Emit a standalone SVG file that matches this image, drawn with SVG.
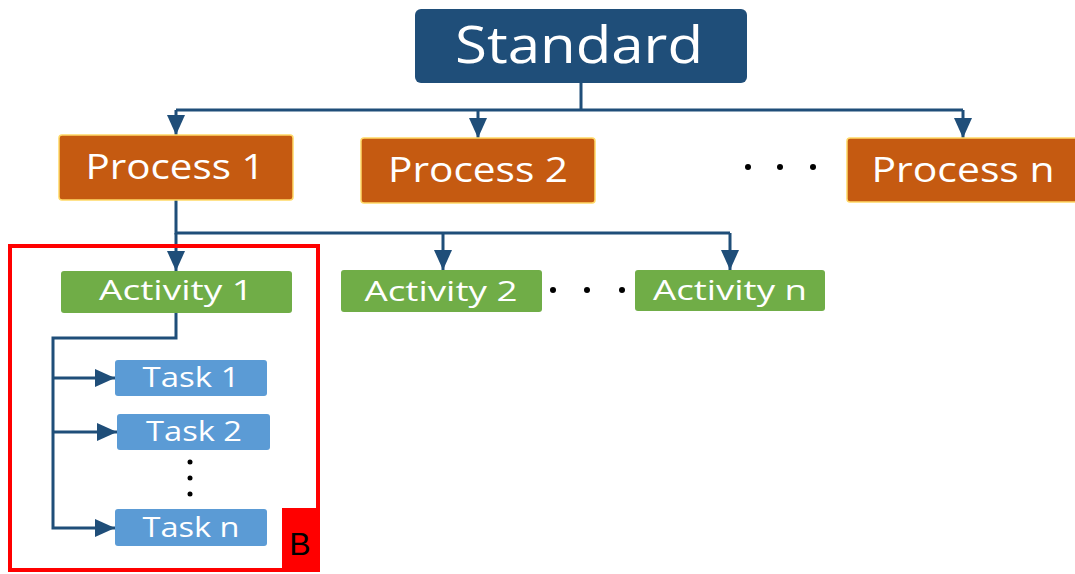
<svg xmlns="http://www.w3.org/2000/svg" width="1075" height="574" viewBox="0 0 1075 574">
  <style>
    text { font-family: "Open Sans", "Liberation Sans", sans-serif; font-weight: 500; fill: #ffffff; text-anchor: middle; }
    .std { fill: #1F4E79; }
    .proc { fill: #C55A11; stroke: #FFD966; stroke-width: 1.5; }
    .act { fill: #70AD47; }
    .task { fill: #5B9BD5; }
    .conn { fill: none; stroke: #1F4E79; stroke-width: 3; }
    .dot { fill: #000000; }
  </style>
  <defs>
    <marker id="arr" markerUnits="userSpaceOnUse" markerWidth="20" markerHeight="18" refX="20" refY="9" orient="auto">
      <path d="M0,0 L20,9 L0,18 z" fill="#1F4E79"/>
    </marker>
  </defs>
  <rect width="1075" height="574" fill="#ffffff"/>

  <g id="connectors">
    <path class="conn" d="M581,83 V110 M176,110 H963"/>
    <path class="conn" d="M176,110 V135" marker-end="url(#arr)"/>
    <path class="conn" d="M478,110 V138" marker-end="url(#arr)"/>
    <path class="conn" d="M963,110 V138" marker-end="url(#arr)"/>
    <path class="conn" d="M176,200 V233 H730"/>
    <path class="conn" d="M176,233 V271" marker-end="url(#arr)"/>
    <path class="conn" d="M443,233 V270" marker-end="url(#arr)"/>
    <path class="conn" d="M730,233 V270" marker-end="url(#arr)"/>
    <path class="conn" d="M176,313 V338 H53 V528 H115" marker-end="url(#arr)"/>
    <path class="conn" d="M53,378 H115" marker-end="url(#arr)"/>
    <path class="conn" d="M53,432 H117" marker-end="url(#arr)"/>
  </g>

  <g id="group-b">
    <rect x="10" y="246" width="308" height="324" fill="none" stroke="#FF0000" stroke-width="4"/>
    <rect x="282" y="508" width="36" height="64" fill="#FF0000"/>
    <text x="300" y="555" font-size="32" style="fill:#000000;font-family:'Liberation Sans',sans-serif">B</text>
  </g>

  <g id="standard">
    <rect class="std" x="415" y="9" width="332" height="74" rx="6"/>
    <text x="579" y="63" font-size="52" textLength="248" lengthAdjust="spacingAndGlyphs">Standard</text>
  </g>

  <g id="process-1">
    <rect class="proc" x="59" y="135" width="234" height="65" rx="3"/>
    <text x="175" y="179" font-size="35" textLength="179" lengthAdjust="spacingAndGlyphs">Process 1</text>
  </g>
  <g id="process-2">
    <rect class="proc" x="361" y="138" width="234" height="65" rx="3"/>
    <text x="478" y="182" font-size="35" textLength="180" lengthAdjust="spacingAndGlyphs">Process 2</text>
  </g>
  <g id="dots-process">
    <circle class="dot" cx="748" cy="167" r="3"/>
    <circle class="dot" cx="780" cy="167" r="3"/>
    <circle class="dot" cx="813" cy="167" r="3"/>
  </g>
  <g id="process-n">
    <rect class="proc" x="847" y="138" width="240" height="64" rx="3"/>
    <text x="963" y="182" font-size="35" textLength="183" lengthAdjust="spacingAndGlyphs">Process n</text>
  </g>

  <g id="activity-1">
    <rect class="act" x="61" y="271" width="231" height="42" rx="3"/>
    <text x="176" y="300" font-size="28" textLength="154" lengthAdjust="spacingAndGlyphs">Activity 1</text>
  </g>
  <g id="activity-2">
    <rect class="act" x="341" y="270" width="201" height="42" rx="3"/>
    <text x="441" y="301" font-size="28" textLength="153" lengthAdjust="spacingAndGlyphs">Activity 2</text>
  </g>
  <g id="dots-activity">
    <circle class="dot" cx="553" cy="290" r="3"/>
    <circle class="dot" cx="587" cy="290" r="3"/>
    <circle class="dot" cx="622" cy="290" r="3"/>
  </g>
  <g id="activity-n">
    <rect class="act" x="635" y="270" width="190" height="41" rx="3"/>
    <text x="730" y="300" font-size="28" textLength="154" lengthAdjust="spacingAndGlyphs">Activity n</text>
  </g>

  <g id="task-1">
    <rect class="task" x="115" y="360" width="152" height="36" rx="3"/>
    <text x="191" y="387" font-size="28" textLength="97" lengthAdjust="spacingAndGlyphs">Task 1</text>
  </g>
  <g id="task-2">
    <rect class="task" x="117" y="414" width="153" height="36" rx="3"/>
    <text x="194" y="441" font-size="28" textLength="96" lengthAdjust="spacingAndGlyphs">Task 2</text>
  </g>
  <g id="dots-task">
    <circle class="dot" cx="190" cy="462" r="2.5"/>
    <circle class="dot" cx="190" cy="478" r="2.5"/>
    <circle class="dot" cx="190" cy="494" r="2.5"/>
  </g>
  <g id="task-n">
    <rect class="task" x="115" y="509" width="152" height="37" rx="3"/>
    <text x="191" y="537" font-size="28" textLength="97" lengthAdjust="spacingAndGlyphs">Task n</text>
  </g>
</svg>
